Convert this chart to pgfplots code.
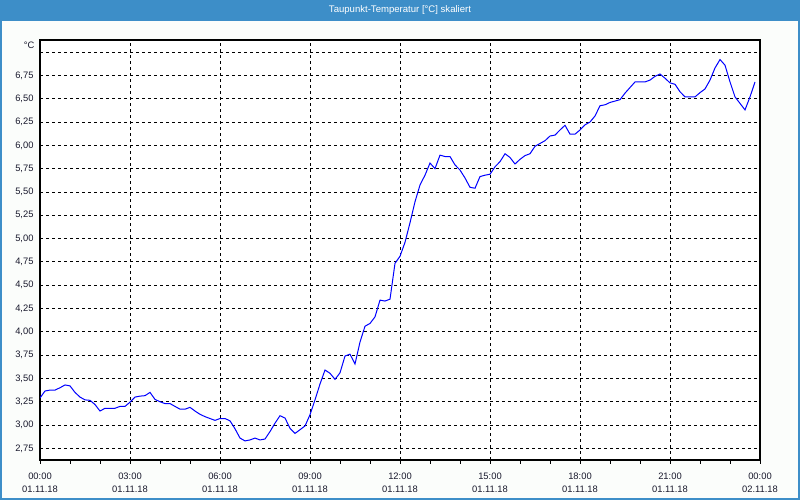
\documentclass[border=0pt]{standalone}
\usepackage{pgfplots}
\pgfplotsset{compat=1.18}
\usepackage{fontspec}
\setmainfont{Liberation Sans}
\definecolor{barblue}{RGB}{61,142,200}
\definecolor{bgcol}{RGB}{251,253,251}
\definecolor{labcol}{RGB}{25,25,45}

\pgfplotstableread{
min val
0 3.29
10 3.365
20 3.375
30 3.375
40 3.40
50 3.43
60 3.42
70 3.35
80 3.30
90 3.27
100 3.265
110 3.22
120 3.15
130 3.18
140 3.18
150 3.18
160 3.20
170 3.20
180 3.245
190 3.30
200 3.31
210 3.315
220 3.35
230 3.275
240 3.25
250 3.23
260 3.23
270 3.20
280 3.17
290 3.17
300 3.19
310 3.15
320 3.115
330 3.09
340 3.07
350 3.05
360 3.07
370 3.07
380 3.045
390 2.96
400 2.86
410 2.83
420 2.84
430 2.86
440 2.84
450 2.85
460 2.93
470 3.02
480 3.10
490 3.075
500 2.965
510 2.91
520 2.95
530 2.99
540 3.11
550 3.27
560 3.44
570 3.59
580 3.555
590 3.49
600 3.56
610 3.74
620 3.76
630 3.655
640 3.89
650 4.06
660 4.09
670 4.16
680 4.34
690 4.33
700 4.35
710 4.735
720 4.81
730 4.96
740 5.17
750 5.395
760 5.575
770 5.68
780 5.81
790 5.75
800 5.895
810 5.88
820 5.88
830 5.79
840 5.735
850 5.65
860 5.55
870 5.54
880 5.665
890 5.68
900 5.69
910 5.77
920 5.825
930 5.91
940 5.87
950 5.80
960 5.85
970 5.89
980 5.91
990 5.99
1000 6.02
1010 6.05
1020 6.10
1030 6.11
1040 6.165
1050 6.215
1060 6.12
1070 6.12
1080 6.165
1090 6.22
1100 6.25
1110 6.315
1120 6.425
1130 6.435
1140 6.46
1150 6.475
1160 6.49
1170 6.56
1180 6.62
1190 6.68
1200 6.68
1210 6.68
1220 6.70
1230 6.74
1240 6.765
1250 6.72
1260 6.67
1270 6.655
1280 6.575
1290 6.52
1300 6.52
1310 6.52
1320 6.565
1330 6.605
1340 6.70
1350 6.83
1360 6.92
1370 6.86
1380 6.68
1390 6.52
1400 6.45
1410 6.38
1420 6.52
1430 6.68
}\taupunkt

\begin{document}
\begin{tikzpicture}
\useasboundingbox (0bp,0bp) rectangle (800bp,500bp);
\fill[bgcol] (0bp,0bp) rectangle (800bp,500bp);
\fill[barblue] (0bp,479bp) rectangle (800bp,500bp);
\draw[barblue, line width=2bp] (1bp,1bp) rectangle (799bp,499bp);
\node[white, font=\fontsize{9.6}{10}\selectfont] at (400bp,489.5bp) {Taupunkt-Temperatur [°C] skaliert};

\begin{axis}[
    at={(40bp,40bp)}, anchor=south west,
    scale only axis,
    width=720bp, height=420bp,
    xmin=0, xmax=1440,
    ymin=2.625, ymax=7.13,
    xtick={0,180,360,540,720,900,1080,1260,1440},
    xticklabels={{00:00\\01.11.18},{03:00\\01.11.18},{06:00\\01.11.18},{09:00\\01.11.18},{12:00\\01.11.18},{15:00\\01.11.18},{18:00\\01.11.18},{21:00\\01.11.18},{00:00\\02.11.18}},
    minor xtick={60,120,240,300,420,480,600,660,780,840,960,1020,1140,1200,1320,1380},
    ytick={2.75,3,3.25,3.5,3.75,4,4.25,4.5,4.75,5,5.25,5.5,5.75,6,6.25,6.5,6.75,7},
    yticklabels={{2,75},{3,00},{3,25},{3,50},{3,75},{4,00},{4,25},{4,50},{4,75},{5,00},{5,25},{5,50},{5,75},{6,00},{6,25},{6,50},{6,75},{}},
    /pgf/number format/assume math mode=true,
    xtick pos=lower, ytick pos=lower,
    tick align=outside,
    major tick length=4bp, minor tick length=4bp,
    xtick style={black, line width=0.8bp},
    ytick style={draw=none},
    xmajorgrids, ymajorgrids,
    major grid style={black, line width=0.8bp, dash pattern=on 3bp off 3bp},
    axis line style={black, line width=1.2bp},
    xticklabel style={align=center, font=\fontsize{9.4}{13}\selectfont, text=labcol, yshift=-5bp},
    yticklabel style={font=\fontsize{9.4}{11}\selectfont, text=labcol, xshift=1bp},
    axis background/.style={fill=white},
]
\addplot[blue, line width=1bp, mark=none, sharp plot] table[x=min, y=val] {\taupunkt};
\end{axis}
\node[anchor=east, font=\fontsize{9.4}{11}\selectfont, text=labcol] at (38bp,455bp) {°C};
\end{tikzpicture}
\end{document}
